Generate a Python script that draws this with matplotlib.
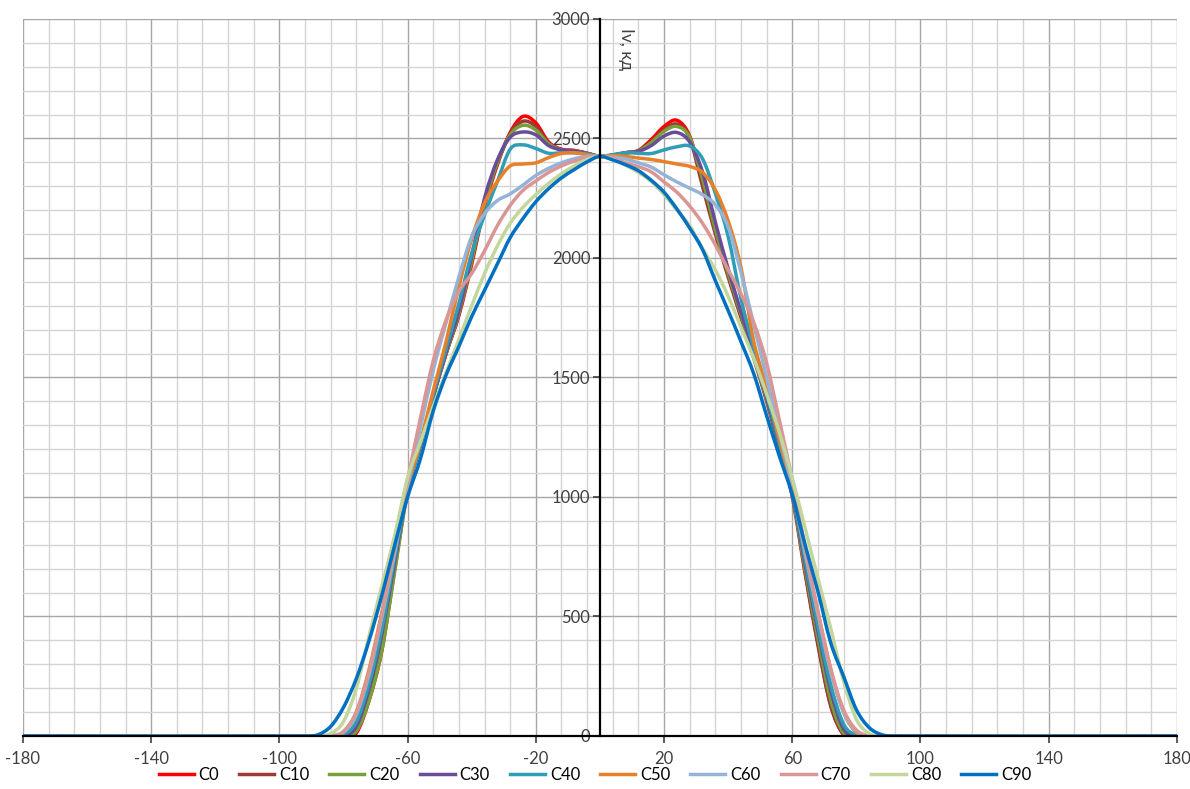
import matplotlib
matplotlib.use("Agg")
import matplotlib.pyplot as plt
from matplotlib.ticker import MultipleLocator, FixedLocator
from matplotlib.path import Path
from matplotlib.patches import PathPatch
from matplotlib.lines import Line2D

# angles, degrees: the outer ends plus a 4-degree step across the beam
x_inner = list(range(-92, 93, 4))
angles = [-180] + x_inner + [180]

# intensity at |x| = 4, 8, ..., 92 for the left (negative) and right halves; centre value separate
centre = 2425
half = {
    "C0": (
        [2438, 2450, 2455, 2485, 2565, 2592, 2525, 2390, 2215, 1975, 1760, 1600, 1420, 1220, 1030, 700, 360, 150, 12, 0, 0, 0, 0],
        [2430, 2440, 2450, 2495, 2550, 2576, 2510, 2320, 2115, 1930, 1760, 1590, 1410, 1210, 1010, 690, 390, 130, 5, 0, 0, 0, 0],
    ),
    "C10": (
        [2438, 2448, 2452, 2480, 2550, 2572, 2520, 2395, 2225, 1985, 1765, 1600, 1420, 1220, 1030, 710, 375, 160, 20, 0, 0, 0, 0],
        [2430, 2440, 2448, 2485, 2535, 2560, 2500, 2300, 2100, 1920, 1750, 1580, 1400, 1200, 1000, 680, 380, 125, 8, 0, 0, 0, 0],
    ),
    "C20": (
        [2437, 2447, 2452, 2478, 2535, 2555, 2515, 2400, 2230, 1990, 1770, 1600, 1420, 1215, 1020, 690, 360, 150, 20, 0, 0, 0, 0],
        [2430, 2440, 2448, 2483, 2530, 2550, 2505, 2330, 2120, 1935, 1765, 1590, 1410, 1210, 1010, 700, 410, 150, 12, 0, 0, 0, 0],
    ),
    "C30": (
        [2437, 2447, 2452, 2470, 2515, 2527, 2505, 2410, 2250, 2010, 1780, 1605, 1420, 1215, 1030, 730, 430, 200, 40, 2, 0, 0, 0],
        [2430, 2440, 2446, 2470, 2510, 2525, 2485, 2360, 2150, 1955, 1775, 1600, 1415, 1215, 1015, 720, 440, 190, 30, 0, 0, 0, 0],
    ),
    "C40": (
        [2435, 2440, 2440, 2438, 2458, 2473, 2455, 2320, 2180, 2020, 1810, 1620, 1430, 1220, 1030, 750, 450, 220, 60, 5, 0, 0, 0],
        [2432, 2440, 2438, 2437, 2452, 2465, 2468, 2415, 2270, 2090, 1830, 1620, 1430, 1225, 1020, 740, 460, 215, 50, 3, 0, 0, 0],
    ),
    "C50": (
        [2432, 2440, 2437, 2420, 2398, 2393, 2385, 2320, 2230, 2080, 1880, 1650, 1445, 1230, 1040, 780, 520, 280, 100, 15, 0, 0, 0],
        [2428, 2425, 2418, 2412, 2403, 2393, 2383, 2358, 2285, 2155, 1960, 1650, 1460, 1240, 1030, 770, 520, 280, 100, 15, 0, 0, 0],
    ),
    "C60": (
        [2425, 2415, 2398, 2375, 2345, 2305, 2268, 2240, 2185, 2090, 1920, 1730, 1530, 1290, 1050, 770, 500, 260, 90, 15, 0, 0, 0],
        [2422, 2414, 2398, 2380, 2348, 2318, 2292, 2265, 2222, 2130, 1940, 1720, 1500, 1270, 1040, 770, 510, 270, 100, 20, 0, 0, 0],
    ),
    "C70": (
        [2420, 2405, 2385, 2358, 2322, 2283, 2220, 2135, 2030, 1935, 1860, 1740, 1570, 1330, 1070, 790, 510, 270, 100, 20, 0, 0, 0],
        [2418, 2398, 2382, 2360, 2318, 2275, 2217, 2145, 2055, 1950, 1850, 1730, 1560, 1320, 1070, 790, 520, 280, 110, 25, 0, 0, 0],
    ),
    "C80": (
        [2412, 2385, 2352, 2312, 2265, 2212, 2145, 2050, 1935, 1800, 1660, 1520, 1380, 1230, 1080, 840, 630, 420, 200, 60, 10, 0, 0],
        [2412, 2388, 2358, 2320, 2265, 2200, 2135, 2040, 1950, 1840, 1710, 1580, 1430, 1270, 1080, 870, 660, 450, 230, 70, 10, 0, 0],
    ),
    "C90": (
        [2402, 2370, 2335, 2290, 2235, 2165, 2085, 1975, 1865, 1755, 1630, 1510, 1360, 1160, 1000, 800, 590, 400, 240, 120, 40, 5, 0],
        [2410, 2390, 2365, 2325, 2275, 2205, 2125, 2035, 1905, 1780, 1650, 1515, 1340, 1170, 1010, 800, 605, 390, 250, 110, 35, 5, 0],
    ),
}

colors = {
    "C0": "#FF0000", "C10": "#9E3A35", "C20": "#77A03B", "C30": "#6A4C98",
    "C40": "#2F9DB5", "C50": "#E8802A", "C60": "#95B3D7", "C70": "#D99694",
    "C80": "#C3D69B", "C90": "#0070C0",
}


def smooth_path(xs, ys):
    # smoothed line like the spreadsheet's: cubic Hermite pieces as Bezier curves
    n = len(xs)
    m = []
    for i in range(n):
        if i == 0 or i == n - 1:
            m.append(0.0)
        else:
            m.append((ys[i + 1] - ys[i - 1]) / (xs[i + 1] - xs[i - 1]))
    verts = [(xs[0], ys[0])]
    codes = [Path.MOVETO]
    for i in range(n - 1):
        h = xs[i + 1] - xs[i]
        verts += [(xs[i] + h / 3, ys[i] + m[i] * h / 3),
                  (xs[i + 1] - h / 3, ys[i + 1] - m[i + 1] * h / 3),
                  (xs[i + 1], ys[i + 1])]
        codes += [Path.CURVE4] * 3
    return Path(verts, codes)


plt.rcParams["font.family"] = ["Lato", "DejaVu Sans"]
plt.rcParams["axes.unicode_minus"] = False

fig = plt.figure(figsize=(11.9, 7.89), dpi=100)
ax = fig.add_axes([0.0193, 0.0672, 0.9697, 0.9088])

handles = []
for name, (left, right) in half.items():
    vals = [0] + left[::-1] + [centre] + right + [0]
    ax.add_patch(PathPatch(smooth_path(angles, vals), fill=False, edgecolor=colors[name],
                           lw=2.5, capstyle="round", joinstyle="round"))
    handles.append(Line2D([], [], color=colors[name], lw=2.5, label=name))

ax.set_xlim(-180, 180)
ax.set_ylim(0, 3000)

ax.xaxis.set_major_locator(MultipleLocator(40, offset=20))
ax.xaxis.set_minor_locator(FixedLocator([v for v in range(-180, 181, 8)]))
ax.yaxis.set_major_locator(MultipleLocator(500))
ax.yaxis.set_minor_locator(MultipleLocator(100))

ax.grid(which="major", color="#A6A6A6", lw=1.0)
ax.grid(which="minor", color="#D4D4D4", lw=1.0)
ax.set_axisbelow(True)

for s in ["top", "right"]:
    ax.spines[s].set_visible(False)
ax.spines["left"].set_position(("data", 0))
ax.spines["left"].set_linewidth(1.6)
ax.spines["bottom"].set_linewidth(1.6)

ax.tick_params(which="minor", length=0)
ax.tick_params(which="major", length=5, width=1.2, labelsize=12, colors="#404040",
               direction="out")
ax.tick_params(axis="x", pad=6)
ax.tick_params(axis="y", pad=2)

ax.text(8, 2960, "Iv, кд", rotation=-90, ha="center", va="top", fontsize=12.5, color="#404040")

fig.legend(handles=handles, loc="center", bbox_to_anchor=(0.5, 1 - 775 / 789), ncol=10,
           frameon=False, fontsize=12, handlelength=2.1, columnspacing=1.2, handletextpad=0.3,
           borderaxespad=0, borderpad=0)

fig.savefig("out.png", dpi=100)
